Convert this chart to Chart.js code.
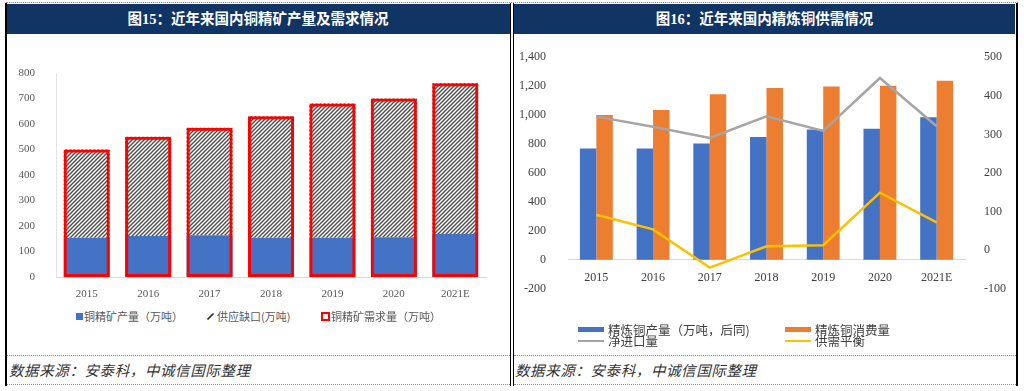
<!DOCTYPE html>
<html>
<head>
<meta charset="utf-8">
<script src="https://cdn.jsdelivr.net/npm/chart.js@4.4.1/dist/chart.umd.min.js"></script>
<style>
    body { margin: 0; width: 1024px; height: 391px; background: #fff; position: relative; overflow: hidden;
           font-family: "Noto Sans CJK SC", sans-serif; }
    .abs  { position: absolute; }
    .head { position: absolute; top: 4px; height: 30px; background: #103464; color: #fff; text-align: center;
            font: bold 14.5px "Liberation Serif", "Noto Sans CJK SC", serif; line-height: 30px; }
    .vline { position: absolute; background: #000; }
    .dot   { position: absolute; height: 0; border-top: 1px dotted #8c8c8c; }
    .src   { position: absolute; top: 360px; font-size: 14.5px; line-height: 20px; font-style: italic; color: #333;
             letter-spacing: 0.6px; white-space: nowrap; }
    .lg    { position: absolute; white-space: nowrap; }
    .lg1   { font-size: 11px; line-height: 14px; color: #595959; top: 309px; }
    .lg2   { font-size: 12.5px; line-height: 15px; color: #404040; }
    canvas { position: absolute; }
</style>
</head>
<body>

<!-- frames -->
<div class="dot" style="left:6px; top:2px; width:1012px;"></div>
<div class="head" style="left:6px; width:504px;">图15：近年来国内铜精矿产量及需求情况</div>
<div class="head" style="left:514px; width:501px;">图16：近年来国内精炼铜供需情况</div>
<div class="vline" style="left:5px; top:3px; width:2px; height:383px;"></div>
<div class="vline" style="left:510px; top:3px; width:1px; height:383px;"></div>
<div class="vline" style="left:513px; top:3px; width:1px; height:383px;"></div>
<div class="vline" style="left:1016px; top:3px; width:2px; height:383px;"></div>
<div class="dot" style="left:7px; top:355px; width:503px;"></div>
<div class="dot" style="left:7px; top:384px; width:503px;"></div>
<div class="dot" style="left:514px; top:355px; width:502px;"></div>
<div class="dot" style="left:514px; top:384px; width:502px;"></div>
<div class="src" style="left:9px;">数据来源：安泰科，中诚信国际整理</div>
<div class="src" style="left:515px;">数据来源：安泰科，中诚信国际整理</div>

<canvas id="oreChart" width="500" height="264" style="left:8px; top:36px;"></canvas>
<canvas id="refinedChart" width="501" height="274" style="left:514px; top:36px;"></canvas>

<!-- legend, left -->
<div class="abs" style="left:76px; top:313px; width:7px; height:7px; background:#4472C4;"></div>
<div class="lg lg1" style="left:84px;">铜精矿产量（万吨）</div>
<svg class="abs" style="left:207px; top:313px;" width="7" height="7"><line x1="0.5" y1="6.5" x2="6.5" y2="0.5" stroke="#333" stroke-width="1.6"/></svg>
<div class="lg lg1" style="left:217px;">供应缺口(万吨)</div>
<div class="abs" style="left:321px; top:312px; width:5px; height:5px; border:2px solid #FF0000; background:#fff;"></div>
<div class="lg lg1" style="left:331px;">铜精矿需求量（万吨）</div>

<!-- legend, right -->
<div class="abs" style="left:578px; top:327px; width:26px; height:5px; background:#4472C4;"></div>
<div class="lg lg2" style="left:608px; top:322px;">精炼铜产量（万吨，后同)</div>
<div class="abs" style="left:785px; top:327px; width:26px; height:5px; background:#ED7D31;"></div>
<div class="lg lg2" style="left:815px; top:322px;">精炼铜消费量</div>
<div class="abs" style="left:578px; top:340px; width:26px; height:2px; background:#A5A5A5;"></div>
<div class="lg lg2" style="left:608px; top:333px;">净进口量</div>
<div class="abs" style="left:785px; top:340px; width:26px; height:2px; background:#FFC000;"></div>
<div class="lg lg2" style="left:815px; top:333px;">供需平衡</div>

<script>
// ─── data ──────────────────────────────────────────────────────────────
const years = ['2015', '2016', '2017', '2018', '2019', '2020', '2021E'];

// 图15 (万吨)
const oreOutput = [154, 161, 164, 154, 154, 156, 169];
const oreGap    = [346, 389, 421, 476, 526, 544, 591];
const oreDemand = [500, 550, 585, 630, 680, 700, 760];
const oreTicks  = { min: 0, max: 800, step: 100 };

// 图16 (万吨)
const refinedOutput = [770, 770, 803, 848, 901, 906, 986];
const refinedUse    = [1000, 1035, 1144, 1188, 1198, 1202, 1237];
const netImport     = [346, 320, 291, 347, 309, 446, 321];
const balance       = [92, 54, -45, 10, 13, 149, 72];
const leftTicks     = { min: -200, max: 1400, step: 200 };
const rightTicks    = { min: -100, max: 500, step: 100 };

// ─── hatch pattern for the gap segment ─────────────────────────────────
function makeHatch() {
    const c = document.createElement('canvas');
    c.width = 4; c.height = 4;
    const g = c.getContext('2d');
    g.fillStyle = '#fff';
    g.fillRect(0, 0, 4, 4);
    g.strokeStyle = '#4d4d4d';
    g.lineWidth = 1.4;
    g.beginPath();
    g.moveTo(-1, 5); g.lineTo(5, -1);
    g.moveTo(-1, 1); g.lineTo(1, -1);
    g.moveTo(3, 5);  g.lineTo(5, 3);
    g.stroke();
    return g.createPattern(c, 'repeat');
}

const serif = "'Liberation Serif', 'Times New Roman', serif";

// ─── 1. 铜精矿 stacked bars ────────────────────────────────────────────
new Chart(document.getElementById('oreChart'), {
    type: 'bar',
    data: {
        labels: years,
        datasets: [
            {
                label: '铜精矿产量（万吨）',
                data: oreOutput,
                backgroundColor: '#4472C4',
                order: 1
            },
            {
                label: '供应缺口(万吨)',
                data: oreGap,
                backgroundColor: makeHatch(),
                order: 1
            },
            {
                label: '铜精矿需求量（万吨）',
                data: oreDemand,
                stack: 'demand',
                grouped: false,
                backgroundColor: 'rgba(0,0,0,0)',
                borderColor: '#FF0000',
                borderWidth: 3,
                borderSkipped: false,
                order: -1
            }
        ]
    },
    options: {
        responsive: false,
        animation: false,
        categoryPercentage: 0.75,
        barPercentage: 1,
        layout: { padding: { left: 0, right: 22, top: 37, bottom: 0 } },
        plugins: { legend: { display: false }, tooltip: { enabled: false } },
        scales: {
            x: {
                stacked: true,
                grid: { display: false },
                border: { color: '#D9D9D9' },
                ticks: { font: { family: serif, size: 11 }, color: '#595959', padding: 3 },
                afterFit: s => { s.height = 23; }
            },
            y: {
                stacked: true,
                min: oreTicks.min,
                max: oreTicks.max,
                grid: { display: false },
                border: { color: '#E3E3E3' },
                ticks: { stepSize: oreTicks.step, font: { family: serif, size: 11 }, color: '#595959', padding: 13 },
                afterFit: s => { s.width = 48; }
            }
        }
    }
});

// ─── 2. 精炼铜 bars + lines ────────────────────────────────────────────
new Chart(document.getElementById('refinedChart'), {
    type: 'bar',
    data: {
        labels: years,
        datasets: [
            {
                type: 'line',
                label: '净进口量',
                data: netImport,
                yAxisID: 'y1',
                borderColor: '#A5A5A5',
                borderWidth: 2.5,
                pointRadius: 0,
                tension: 0,
                order: 0
            },
            {
                type: 'line',
                label: '供需平衡',
                data: balance,
                yAxisID: 'y1',
                borderColor: '#FFC000',
                borderWidth: 2.5,
                pointRadius: 0,
                tension: 0,
                order: 0
            },
            {
                label: '精炼铜产量（万吨，后同)',
                data: refinedOutput,
                backgroundColor: '#4472C4',
                order: 1
            },
            {
                label: '精炼铜消费量',
                data: refinedUse,
                backgroundColor: '#ED7D31',
                order: 1
            }
        ]
    },
    options: {
        responsive: false,
        animation: false,
        categoryPercentage: 0.58,
        barPercentage: 1,
        layout: { padding: { left: 0, right: 0, top: 20, bottom: 14 } },
        plugins: { legend: { display: false }, tooltip: { enabled: false } },
        scales: {
            x: {
                position: { y: 0 },
                grid: { display: false },
                border: { color: '#D9D9D9' },
                ticks: { font: { family: serif, size: 12 }, color: '#404040', padding: 3 }
            },
            y: {
                position: 'left',
                min: leftTicks.min,
                max: leftTicks.max,
                grid: { display: false },
                border: { display: false },
                ticks: {
                    stepSize: leftTicks.step,
                    font: { family: serif, size: 12 },
                    color: '#404040',
                    padding: 14,
                    callback: v => v.toLocaleString('en-US')
                },
                afterFit: s => { s.width = 54; }
            },
            y1: {
                position: 'right',
                min: rightTicks.min,
                max: rightTicks.max,
                grid: { display: false },
                border: { display: false },
                ticks: { stepSize: rightTicks.step, font: { family: serif, size: 12 }, color: '#404040', padding: 11 },
                afterFit: s => { s.width = 50; }
            }
        }
    }
});
</script>
</body>
</html>
